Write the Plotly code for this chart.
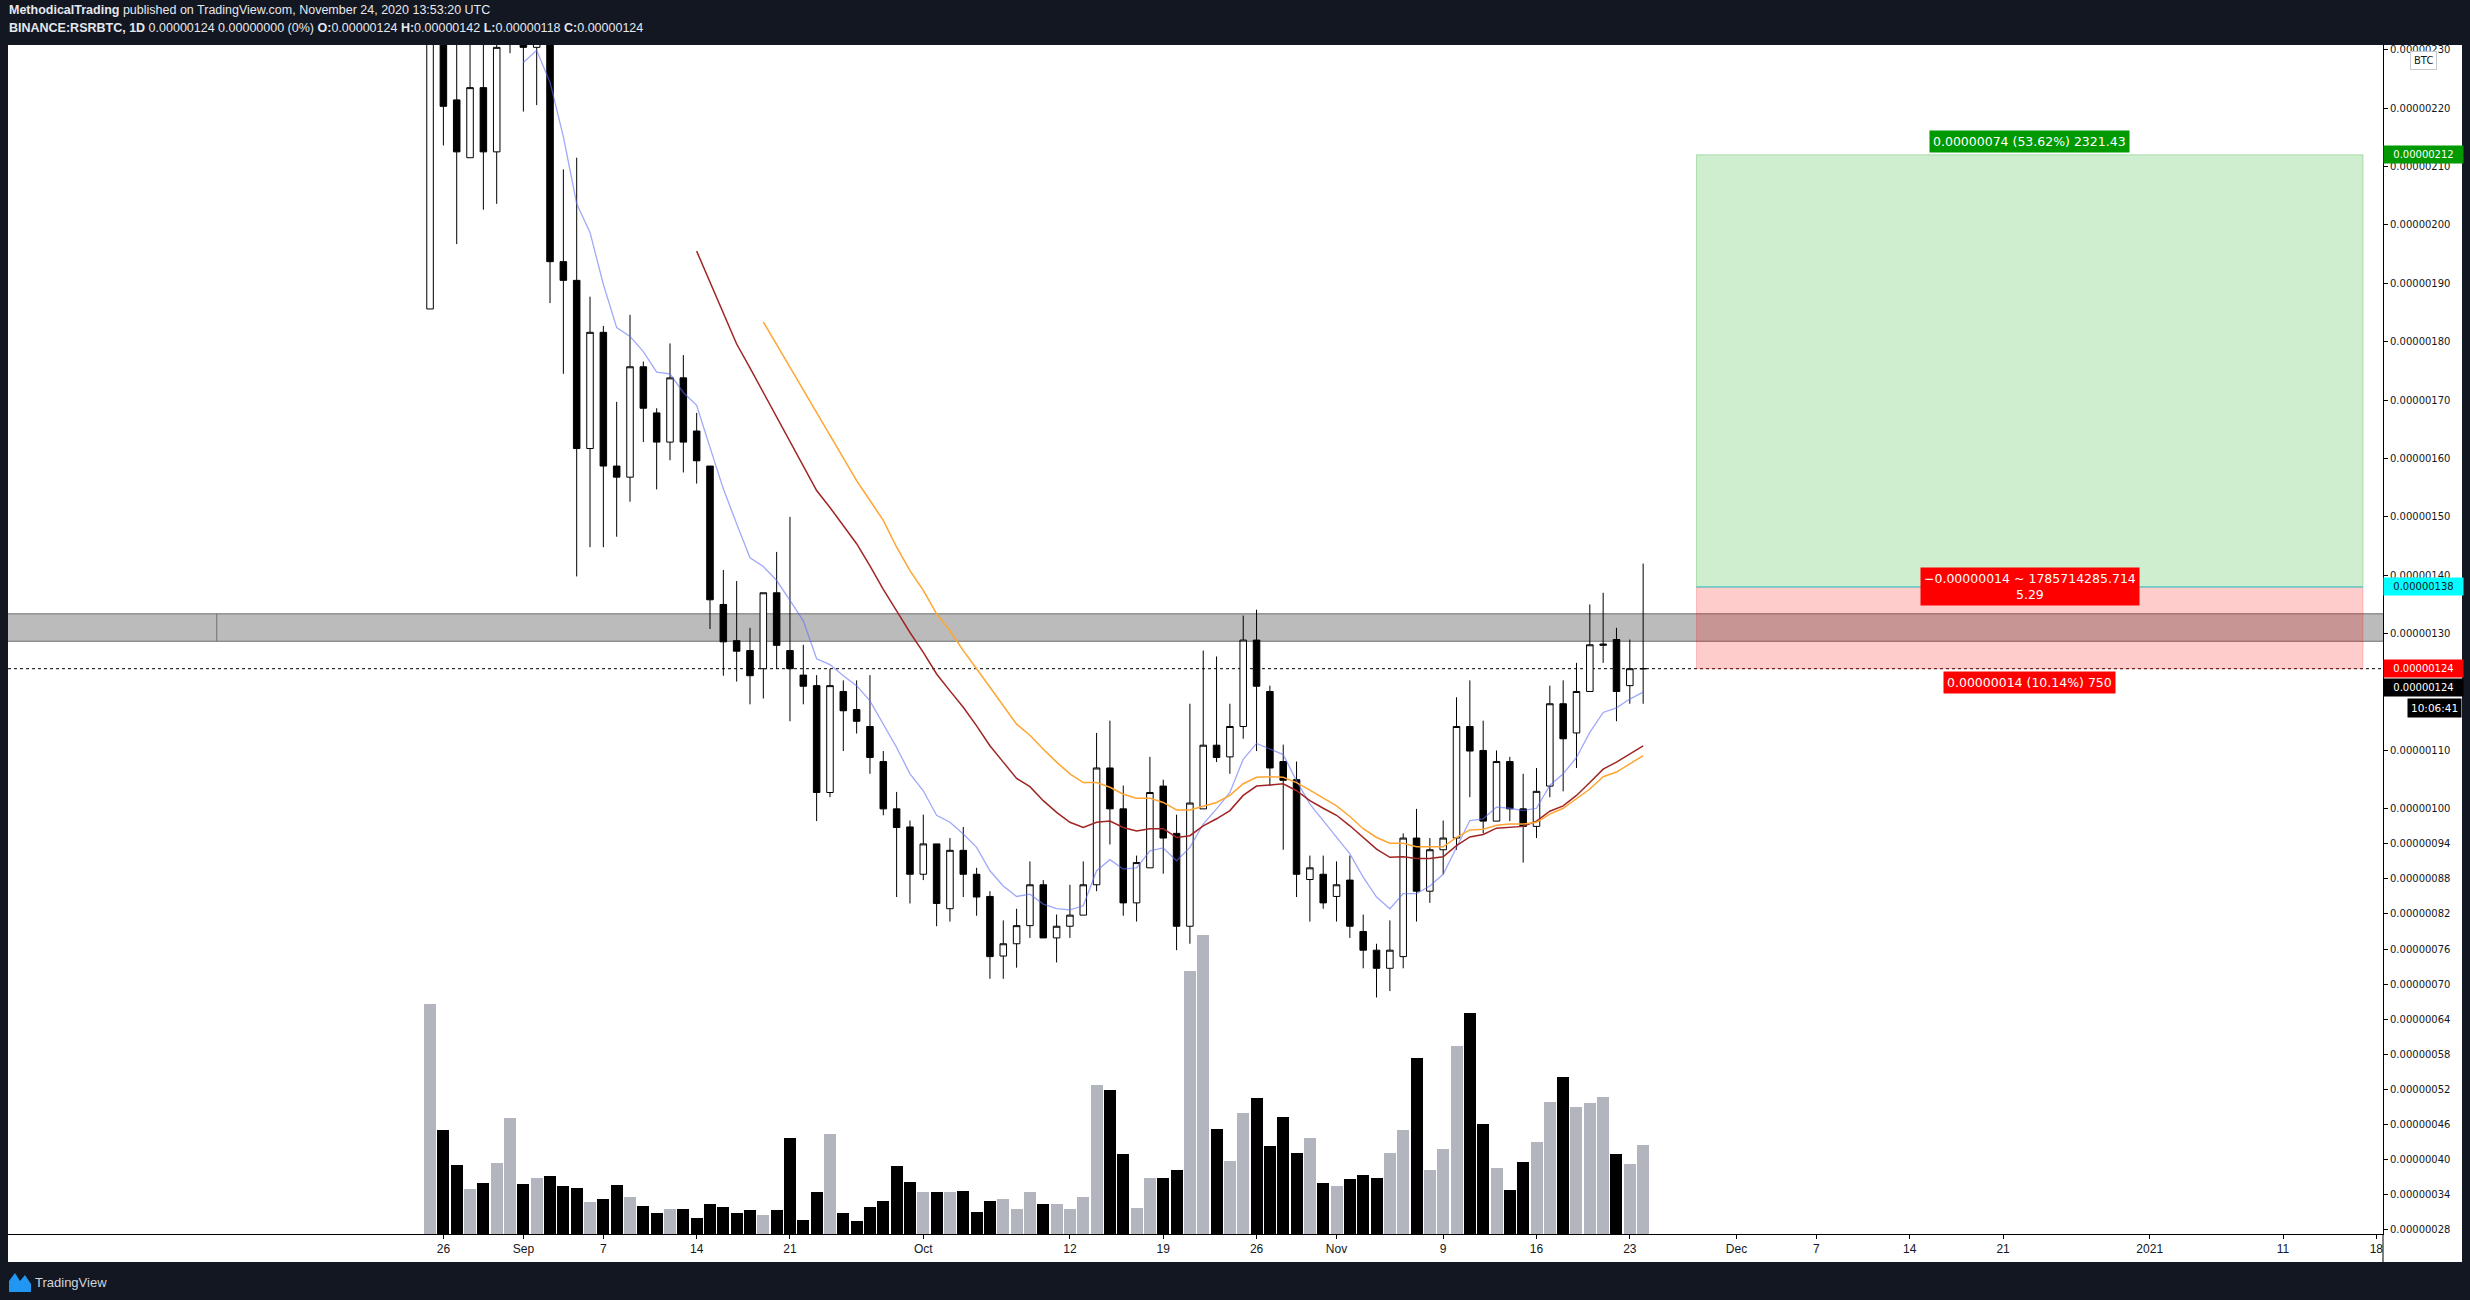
import pandas as pd
import plotly.graph_objects as go

# Daily BINANCE:RSRBTC candles, prices in satoshi (1e-8 BTC)
FIRST_DAY = "2020-08-25"
OPEN = [185.6, 250, 221.4, 211.5, 223.5, 212.5, 236, 240, 230.4, 233,
        193.7, 190.5, 161.7, 181.6, 158.7, 156.8, 175.7, 167.8, 162.8, 173.8,
        164.7, 158.7, 135.0, 128.8, 127.1, 124.0, 137.0, 127.1, 122.9, 121.1,
        102.8, 120.1, 117.0, 114.1, 108.1, 100.0, 96.9, 88.8, 94.0, 82.9,
        92.9, 88.8, 85.0, 74.8, 76.9, 80.0, 87.0, 77.9, 79.9, 81.8,
        87.0, 107.0, 100.0, 83.9, 89.9, 103.9, 95.8, 79.9, 100.0, 110.9,
        108.9, 114.1, 128.9, 120.1, 108.1, 105.0, 87.9, 88.8, 85.0, 87.8,
        79.0, 75.8, 72.7, 74.7, 95.0, 85.9, 93.0, 95.0, 114.1, 110.0,
        97.9, 108.1, 100.0, 97.0, 103.9, 118.0, 113.0, 120.1, 128.0, 129.0,
        121.1, 124.0]
HIGH = [265, 262, 238, 240, 235, 240, 250, 245, 240, 236,
        209.5, 211.5, 187.7, 182.7, 169.7, 184.6, 176.6, 168.6, 179.7, 177.7,
        167.8, 158.7, 140.9, 139.0, 131.0, 137.0, 144.0, 150.0, 128.1, 122.9,
        124.0, 122.0, 122.0, 122.9, 109.9, 102.9, 98.0, 99.0, 94.0, 95.0,
        96.9, 89.9, 85.9, 80.9, 82.9, 91.0, 87.8, 81.9, 87.0, 91.0,
        113.0, 115.1, 104.0, 92.0, 108.9, 105.0, 99.0, 118.0, 127.1, 126.1,
        118.0, 133.1, 134.1, 121.1, 111.0, 108.1, 92.0, 92.0, 91.0, 92.0,
        81.9, 76.9, 80.9, 95.8, 100.0, 95.0, 98.0, 119.1, 122.0, 115.1,
        110.0, 108.9, 106.0, 107.0, 121.1, 122.0, 125.0, 135.0, 137.0, 131.0,
        129.0, 142.0]
LOW = [185.6, 213.6, 196.7, 211.5, 202.6, 203.6, 229.4, 219.4, 220.5, 186.6,
       174.5, 139.8, 144.8, 144.8, 146.6, 152.6, 162.8, 154.7, 159.7, 157.6,
       155.7, 130.8, 122.8, 121.8, 117.9, 118.9, 124.0, 115.0, 117.9, 97.9,
       102.0, 109.9, 112.9, 106.0, 98.9, 84.9, 83.8, 87.8, 79.9, 80.7,
       84.9, 81.7, 70.9, 70.9, 72.8, 77.9, 77.9, 73.7, 77.9, 81.8,
       85.9, 93.9, 81.7, 80.7, 89.9, 88.9, 75.8, 76.9, 100.0, 108.0,
       106.0, 112.0, 109.9, 103.9, 93.0, 84.9, 80.7, 82.9, 80.7, 77.9,
       72.7, 67.7, 68.8, 72.7, 80.7, 83.9, 88.8, 93.0, 102.0, 95.8,
       97.9, 97.9, 90.8, 95.0, 102.0, 103.0, 107.0, 120.1, 125.0, 115.0,
       118.0, 118.0]
CLOSE = [255, 220.3, 212.5, 223.5, 212.5, 230.4, 240, 230.4, 233, 193.7,
         190.5, 161.7, 181.6, 158.7, 156.8, 175.7, 168.6, 162.8, 173.8, 162.8,
         159.6, 135.8, 128.6, 127.0, 122.8, 137.0, 128.0, 124.0, 121.0, 102.8,
         121.1, 116.8, 115.0, 108.8, 100.0, 96.8, 88.8, 94.0, 83.8, 92.9,
         88.8, 84.9, 74.7, 76.9, 80.0, 87.0, 77.9, 79.9, 81.8, 87.0,
         107.0, 100.0, 83.9, 90.8, 102.8, 95.0, 79.9, 101.0, 110.9, 108.8,
         114.1, 128.9, 121.0, 107.0, 104.9, 88.8, 89.9, 83.9, 87.0, 79.9,
         75.8, 72.7, 75.8, 95.0, 85.9, 93.0, 95.0, 114.1, 109.9, 97.9,
         108.1, 100.0, 97.0, 103.0, 118.0, 112.0, 120.1, 128.1, 128.2, 120.1,
         124.0, 124.0]
VOLUME = [685, 310, 205, 133, 151, 211, 346, 148, 166, 172,
          142, 136, 94, 103, 145, 109, 82, 64, 73, 73,
          49, 88, 79, 64, 70, 58, 70, 286, 43, 124,
          298, 64, 40, 79, 97, 202, 154, 124, 124, 124,
          127, 67, 97, 103, 73, 124, 88, 88, 73, 109,
          445, 430, 238, 76, 166, 166, 190, 783, 891, 313,
          217, 361, 406, 262, 349, 241, 286, 151, 142, 163,
          175, 166, 241, 310, 523, 190, 253, 559, 658, 328,
          196, 130, 214, 274, 394, 466, 379, 391, 409, 238,
          208, 265]

# moving averages as drawn on the chart
MA_FAST = [None] * 7 + [
    227.8, 229.9, 224.4, 215.1, 203.6, 198.7, 189.8, 182.4, 180.9, 178.3,
    174.8, 174.5, 171.3, 169.1, 161.9, 154.8, 148.8, 143.0, 141.5, 139.1,
    135.7, 132.2, 125.7, 124.7, 122.8, 121.1, 118.5, 114.5, 110.5, 106.0,
    103.1, 98.9, 97.7, 95.7, 93.4, 89.4, 86.8, 85.0, 85.4, 83.7,
    82.9, 82.7, 83.4, 89.4, 91.3, 89.7, 89.9, 92.8, 93.3, 91.1,
    93.4, 97.4, 100.0, 102.8, 108.5, 111.2, 110.3, 109.3, 104.8, 100.8,
    98.0, 95.2, 92.3, 88.3, 84.9, 82.9, 85.5, 85.5, 86.8, 88.8,
    93.4, 98.0, 98.3, 100.3, 100.1, 99.7, 100.1, 104.0, 106.0, 108.8,
    113.1, 116.5, 117.3, 118.8, 120.0]
MA_MID = [None] * 20 + [
    195.5, 190.2, 184.9, 179.6, 175.5, 171.3, 167.1, 163.0, 158.8, 154.5,
    151.6, 148.5, 145.4, 141.6, 137.6, 133.9, 130.2, 126.8, 123.1, 120.2,
    117.4, 114.2, 110.8, 108.0, 105.2, 103.8, 101.4, 99.4, 97.7, 96.8,
    97.7, 97.9, 96.8, 96.2, 96.6, 96.6, 95.1, 95.4, 97.1, 98.3,
    99.7, 102.3, 103.9, 104.1, 104.3, 103.1, 101.4, 100.1, 98.9, 97.1,
    95.1, 93.1, 91.7, 91.8, 91.5, 91.5, 91.8, 93.7, 95.2, 95.6,
    96.7, 96.8, 97.0, 97.9, 99.6, 100.5, 102.3, 104.5, 106.8, 108.0,
    109.4, 110.8]
MA_SLOW = [None] * 25 + [
    183.4, 179.5, 175.6, 171.7, 167.8, 163.9, 160.0, 156.2, 152.8, 149.4,
    144.8, 140.8, 137.4, 133.4, 130.5, 127.1, 124.0, 120.8, 117.6, 114.5,
    112.6, 110.2, 108.0, 106.0, 104.5, 104.5, 103.7, 102.5, 101.8, 101.8,
    101.1, 99.8, 99.8, 100.4, 101.1, 102.3, 104.3, 105.4, 105.5, 105.4,
    104.5, 103.2, 101.8, 100.5, 98.7, 96.6, 95.1, 94.1, 94.1, 93.5,
    93.5, 93.5, 95.1, 96.4, 96.5, 97.2, 97.4, 97.4, 97.7, 99.1,
    100.1, 101.7, 103.4, 105.5, 106.3, 107.7, 109.1]

PRICE_TICKS = [28, 34, 40, 46, 52, 58, 64, 70, 76, 82, 88, 94, 100, 110, 120,
               130, 140, 150, 160, 170, 180, 190, 200, 210, 220, 230]
DATE_TICKS = ["2020-08-26", "2020-09-01", "2020-09-07", "2020-09-14", "2020-09-21",
              "2020-10-01", "2020-10-12", "2020-10-19", "2020-10-26", "2020-11-01",
              "2020-11-09", "2020-11-16", "2020-11-23", "2020-12-01", "2020-12-07",
              "2020-12-14", "2020-12-21", "2021-01-01", "2021-01-11", "2021-01-18"]
DATE_LABELS = ["26", "Sep", "7", "14", "21", "Oct", "12", "19", "26", "Nov",
               "9", "16", "23", "Dec", "7", "14", "21", "2021", "11", "18"]

ZONE_LOW, ZONE_HIGH = 128.7, 133.4
ZONE_MARK_DAY = "2020-08-09"
ENTRY, TARGET, STOP = 138, 212, 124
POSITION_START, POSITION_END = "2020-11-28", "2021-01-17"
LAST_PRICE = 124
TIME_LEFT = "10:06:41"

DARK = "#131722"
SANS = "Liberation Sans, Arial, sans-serif"
AXIS_FONT = "DejaVu Sans, Verdana, sans-serif"

W, H = 2470, 1300
M_L, M_R, M_T, M_B = 8, 87, 45, 66
PLOT_W, PLOT_H = W - M_L - M_R, H - M_T - M_B


def px_x(x):
    return (x - M_L) / PLOT_W


def px_y(y):
    return (H - M_B - y) / PLOT_H


def sat(v):
    return f"{v * 1e-8:.8f}"


dates = pd.date_range(FIRST_DAY, periods=len(CLOSE), freq="D")
vol_colors = ["#b2b5be" if c >= o else "#000000" for o, c in zip(OPEN, CLOSE)]

fig = go.Figure()
fig.add_trace(go.Bar(
    x=dates, y=VOLUME, yaxis="y2", marker_color=vol_colors, marker_line_width=0,
    width=86400000 * 0.9, hoverinfo="skip", showlegend=False,
))
fig.add_trace(go.Candlestick(
    x=dates, open=OPEN, high=HIGH, low=LOW, close=CLOSE,
    increasing={"line": {"color": "#000000", "width": 1}, "fillcolor": "#ffffff"},
    decreasing={"line": {"color": "#000000", "width": 1}, "fillcolor": "#000000"},
    hoverinfo="skip", showlegend=False,
))
for values, color, width in [
    (MA_FAST, "rgba(95,110,245,0.6)", 1.3),
    (MA_MID, "#a02424", 1.5),
    (MA_SLOW, "#ffa532", 1.5),
]:
    fig.add_trace(go.Scatter(
        x=dates, y=values, mode="lines", line={"color": color, "width": width},
        hoverinfo="skip", showlegend=False,
    ))

shapes = [
    # white panels behind the price scale and the time scale
    dict(type="rect", xref="paper", yref="paper", x0=0, x1=px_x(2462), y0=px_y(1262), y1=1,
         fillcolor="#ffffff", line_width=0, layer="below"),
    dict(type="line", xref="paper", yref="paper", x0=1, x1=1, y0=px_y(1262), y1=0,
         line={"color": "#000000", "width": 1}),
    # support / resistance zone
    dict(type="rect", xref="paper", yref="y", x0=0, x1=1, y0=ZONE_LOW, y1=ZONE_HIGH,
         fillcolor="#bbbbbb", line_width=0, layer="below"),
    dict(type="line", xref="paper", yref="y", x0=0, x1=1, y0=ZONE_HIGH, y1=ZONE_HIGH,
         line={"color": "#6f6f6f", "width": 1}, layer="below"),
    dict(type="line", xref="paper", yref="y", x0=0, x1=1, y0=ZONE_LOW, y1=ZONE_LOW,
         line={"color": "#6f6f6f", "width": 1}, layer="below"),
    dict(type="line", xref="x", yref="y", x0=ZONE_MARK_DAY, x1=ZONE_MARK_DAY,
         y0=ZONE_LOW, y1=ZONE_HIGH, line={"color": "#6f6f6f", "width": 1}, layer="below"),
    # long position tool
    dict(type="rect", xref="x", yref="y", x0=POSITION_START, x1=POSITION_END,
         y0=ENTRY, y1=TARGET, fillcolor="rgba(0,160,0,0.19)",
         line={"color": "rgba(0,160,0,0.25)", "width": 1}, layer="below"),
    dict(type="rect", xref="x", yref="y", x0=POSITION_START, x1=POSITION_END,
         y0=STOP, y1=ENTRY, fillcolor="rgba(255,0,0,0.2)",
         line={"color": "rgba(255,0,0,0.2)", "width": 1}, layer="below"),
    dict(type="line", xref="x", yref="y", x0=POSITION_START, x1=POSITION_END,
         y0=ENTRY, y1=ENTRY, line={"color": "#2fd6e6", "width": 1}, layer="below"),
    # last price line
    dict(type="line", xref="paper", yref="y", x0=0, x1=1, y0=LAST_PRICE, y1=LAST_PRICE,
         line={"color": "#000000", "width": 1, "dash": "dot"}, layer="below"),
    # TradingView logo mark
    dict(type="path", xref="paper", yref="paper", fillcolor="#2196f3", line_width=0,
         path=(f"M {px_x(9)},{px_y(1292)} L {px_x(9)},{px_y(1281)} L {px_x(15)},{px_y(1273)} "
               f"L {px_x(20)},{px_y(1281)} L {px_x(25)},{px_y(1275)} L {px_x(31)},{px_y(1284)} "
               f"L {px_x(31)},{px_y(1292)} Z")),
]

o, hi, lo, c = OPEN[-1], HIGH[-1], LOW[-1], CLOSE[-1]
change = c - CLOSE[-2]
label_font = {"family": AXIS_FONT, "size": 12.5, "color": "#ffffff"}
annotations = [
    dict(xref="paper", yref="paper", x=px_x(7), y=px_y(10), xanchor="left", yanchor="middle",
         showarrow=False, font={"family": SANS, "size": 12.5, "color": "#e6e8ee"},
         text="<b>MethodicalTrading</b> published on TradingView.com, November 24, 2020 13:53:20 UTC"),
    dict(xref="paper", yref="paper", x=px_x(7), y=px_y(28), xanchor="left", yanchor="middle",
         showarrow=False, font={"family": SANS, "size": 12.5, "color": "#e6e8ee"},
         text=(f"<b>BINANCE:RSRBTC, 1D</b> {sat(c)} {sat(change)} (0%) "
               f"<b>O:</b>{sat(o)} <b>H:</b>{sat(hi)} <b>L:</b>{sat(lo)} <b>C:</b>{sat(c)}")),
    dict(xref="paper", yref="paper", x=px_x(33), y=px_y(1282), xanchor="left", yanchor="middle",
         showarrow=False, font={"family": SANS, "size": 13, "color": "#d1d4dc"},
         text="TradingView"),
    # position tool labels
    dict(xref="x", yref="y", x="2020-12-23", y=TARGET, yanchor="bottom", yshift=2,
         showarrow=False, bgcolor="#009900", borderpad=3, font=label_font,
         text=f"{sat(TARGET - ENTRY)} (53.62%) 2321.43"),
    dict(xref="x", yref="y", x="2020-12-23", y=ENTRY, yanchor="middle",
         showarrow=False, bgcolor="#ff0000", borderpad=3, font=label_font,
         text=f"\u2212{sat(ENTRY - STOP)} ~ 1785714285.714<br>5.29"),
    dict(xref="x", yref="y", x="2020-12-23", y=STOP, yanchor="top", yshift=-2,
         showarrow=False, bgcolor="#ff0000", borderpad=3, font=label_font,
         text=f"{sat(ENTRY - STOP)} (10.14%) 750"),
    # BTC currency badge
    dict(xref="paper", yref="paper", x=px_x(2423), y=px_y(61), xanchor="center", yanchor="middle",
         showarrow=False, bgcolor="#ffffff", bordercolor="#c8cad2", borderwidth=1, borderpad=3,
         font={"family": AXIS_FONT, "size": 10, "color": DARK}, text="BTC"),
]

# price scale labels
for price, bg, fg, shift in [
    (TARGET, "#009900", "#ffffff", 0),
    (ENTRY, "#00ffff", DARK, 0),
    (STOP, "#ff0000", "#ffffff", 0),
    (LAST_PRICE, "#000000", "#ffffff", -19),
]:
    annotations.append(dict(
        xref="paper", yref="y", x=1, y=price, xanchor="left", yanchor="middle", yshift=shift,
        showarrow=False, bgcolor=bg, width=73, borderpad=3, align="center",
        font={"family": AXIS_FONT, "size": 10, "color": fg}, text=sat(price),
    ))
annotations.append(dict(
    xref="paper", yref="y", x=px_x(2462), y=LAST_PRICE, xanchor="right", yanchor="middle",
    yshift=-39, showarrow=False, bgcolor="#000000", borderpad=3,
    font={"family": AXIS_FONT, "size": 10.5, "color": "#ffffff"}, text=TIME_LEFT,
))

base = pd.Timestamp(FIRST_DAY)
fig.update_layout(
    width=W, height=H,
    margin={"l": M_L, "r": M_R, "t": M_T, "b": M_B},
    paper_bgcolor=DARK, plot_bgcolor="#ffffff",
    hovermode=False, showlegend=False, bargap=0,
    shapes=shapes, annotations=annotations,
    xaxis=dict(
        type="date",
        range=[base - pd.Timedelta(days=31.66), base + pd.Timedelta(days=146.5)],
        tickvals=DATE_TICKS, ticktext=DATE_LABELS,
        ticks="outside", ticklen=4, tickcolor="#000000",
        showline=True, linecolor="#000000", linewidth=1,
        showgrid=False, zeroline=False, rangeslider={"visible": False},
        tickfont={"family": SANS, "size": 12, "color": DARK},
    ),
    yaxis=dict(
        side="right", range=[27.2, 230.8],
        tickvals=PRICE_TICKS, ticktext=[sat(v) for v in PRICE_TICKS],
        ticks="outside", ticklen=4, tickcolor="#000000",
        showline=True, linecolor="#000000", linewidth=1,
        showgrid=False, zeroline=False,
        tickfont={"family": AXIS_FONT, "size": 10, "color": DARK},
    ),
    yaxis2=dict(overlaying="y", range=[0, 3540], visible=False, showgrid=False),
)

fig.write_html(
    "out.html",
    config={"displayModeBar": False},
    post_script="document.body.style.margin='0';document.body.style.overflow='hidden';",
)
